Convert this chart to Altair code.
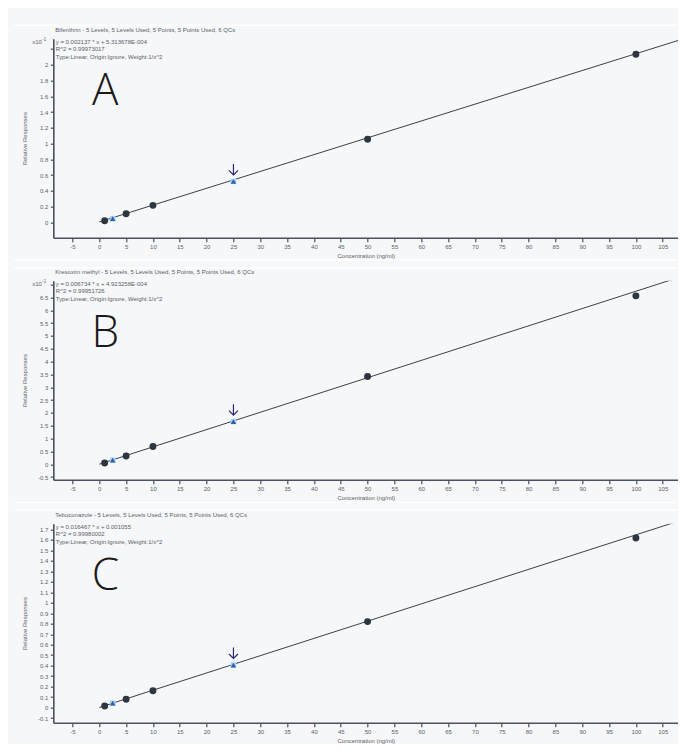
import altair as alt
import pandas as pd

# ---------------- data ----------------
X_TICKS = [-5, 0, 5, 10, 15, 20, 25, 30, 35, 40, 45, 50, 55, 60, 65, 70, 75, 80, 85, 90, 95, 100, 105]
X_DOMAIN = [-8.57, 107.9]
FIT_X = [0, 112]

A_TITLE = "Bifenthrin - 5 Levels, 5 Levels Used, 5 Points, 5 Points Used, 6 QCs"
A_EQ = ["y = 0.002137 * x  + 5.313678E-004", "R^2 = 0.99973017", "Type:Linear, Origin:Ignore, Weight:1/x^2"]
A_CAL_X = [1, 5, 10, 50, 100]
A_CAL_Y = [0.02, 0.11, 0.216, 1.055, 2.136]
A_QC_X = [2.5, 25]
A_QC_Y = [0.047, 0.52]
A_FIT = [0.02137, 0.0053]          # slope, intercept (x10^-1 units)
A_Y_DOMAIN = [-0.195, 2.333]
A_Y_TICKS = [0, 0.2, 0.4, 0.6, 0.8, 1, 1.2, 1.4, 1.6, 1.8, 2, 2.2]

B_TITLE = "Kresoxim methyl - 5 Levels, 5 Levels Used, 5 Points, 5 Points Used, 6 QCs"
B_EQ = ["y = 0.006734 * x  + 4.923258E-004", "R^2 = 0.99951726", "Type:Linear, Origin:Ignore, Weight:1/x^2"]
B_CAL_X = [1, 5, 10, 50, 100]
B_CAL_Y = [0.05, 0.32, 0.69, 3.42, 6.56]
B_QC_X = [2.5, 25]
B_QC_Y = [0.16, 1.66]
B_FIT = [0.06734, 0.0049]
B_Y_DOMAIN = [-0.6, 7.15]
B_Y_TICKS = [-0.5, 0, 0.5, 1, 1.5, 2, 2.5, 3, 3.5, 4, 4.5, 5, 5.5, 6, 6.5, 7]

C_TITLE = "Tebuconazole - 5 Levels, 5 Levels Used, 5 Points, 5 Points Used, 6 QCs"
C_EQ = ["y = 0.016467 * x  + 0.001055", "R^2 = 0.99980002", "Type:Linear, Origin:Ignore, Weight:1/x^2"]
C_CAL_X = [1, 5, 10, 50, 100]
C_CAL_Y = [0.016, 0.08, 0.16, 0.82, 1.617]
C_QC_X = [2.5, 25]
C_QC_Y = [0.042, 0.406]
C_FIT = [0.016467, 0.001055]
C_Y_DOMAIN = [-0.144, 1.754]
C_Y_TICKS = [-0.1, 0, 0.1, 0.2, 0.3, 0.4, 0.5, 0.6, 0.7, 0.8, 0.9, 1, 1.1, 1.2, 1.3, 1.4, 1.5, 1.6, 1.7]

# ---------------- style ----------------
BG = "#f6f7f9"
AXIS = "#4a5160"
TXT = "#5a5f66"
DOT = "#2e3640"
LINE = "#3a4048"
QC_BLUE = "#2c5fb5"
QC_LIGHT = "#a9d4ef"
ARROW = "#29287a"
FONT = "Liberation Sans"
W, H = 625, 199
ARROW_PATH = "M0,-1.75L0,-0.65M-0.45,-1.1L0,-0.65L0.45,-1.1"


def panel(letter, title, eq, cal_x, cal_y, qc_x, qc_y, fit, y_dom, y_ticks, hide_top, exp_label, seps):
    xs = alt.Scale(domain=X_DOMAIN, nice=False, zero=False)
    ys = alt.Scale(domain=y_dom, nice=False, zero=False)
    fix = "replace(datum.label, '\u2212', '-')"
    label_expr = fix
    if hide_top is not None:
        label_expr = f"datum.value > {hide_top} ? '' : {fix}"
    X = alt.X("x:Q", scale=xs, axis=alt.Axis(
        values=X_TICKS, title="Concentration (ng/ml)", grid=False, labelExpr=fix,
        tickSize=4, tickWidth=1.2, domainWidth=1.6, labelPadding=1.5, titlePadding=3.5,
        labelFontSize=6, titleFontSize=6, titleFontWeight="normal"))
    Y = alt.Y("y:Q", scale=ys, axis=alt.Axis(
        values=y_ticks, title="Relative Responses", grid=False, format="~g", labelExpr=label_expr,
        tickSize=3, tickWidth=1.2, domainWidth=1.6, labelPadding=2.5,
        labelFontSize=6, titleFontSize=6, titleFontWeight="normal", titleX=-29, titleBaseline="middle"))

    fit_df = pd.DataFrame({"x": FIT_X, "y": [fit[0] * v + fit[1] for v in FIT_X]})
    line = alt.Chart(fit_df).mark_line(clip=True, color=LINE, strokeWidth=1).encode(x=X, y=Y)
    cal = alt.Chart(pd.DataFrame({"x": cal_x, "y": cal_y})).mark_point(
        shape="circle", filled=True, size=48, color=DOT, opacity=1).encode(x=X, y=Y)
    qc_df = pd.DataFrame({"x": qc_x, "y": qc_y})
    qc_bg = alt.Chart(qc_df).mark_point(
        shape="square", filled=True, size=30, color=QC_LIGHT, opacity=1).encode(x=X, y=Y)
    qc = alt.Chart(qc_df).mark_point(
        shape="triangle-up", filled=True, size=30, color=QC_BLUE, opacity=1).encode(x=X, y=Y)
    arrow = alt.Chart(pd.DataFrame({"x": qc_x[-1:], "y": qc_y[-1:]})).mark_point(
        shape=ARROW_PATH, filled=False, size=400, color=ARROW, strokeWidth=1.2, opacity=1).encode(x=X, y=Y)

    title_t = alt.Chart(pd.DataFrame({"t": [title]})).mark_text(
        align="left", baseline="middle", fontSize=6, color=TXT, font=FONT).encode(
        x=alt.value(2), y=alt.value(-9), text="t:N")
    eq_t = alt.Chart(pd.DataFrame({"t": ["\n".join(eq)]})).mark_text(
        align="left", baseline="top", fontSize=6, lineHeight=7.3, color=TXT, font=FONT, lineBreak="\n").encode(
        x=alt.value(2.5), y=alt.value(0.5), text="t:N")
    letter_t = alt.Chart(pd.DataFrame({"t": [letter]})).mark_text(
        align="center", baseline="alphabetic", fontSize=44, fontWeight=300, color="#1a1a1a",
        font="Open Sans").encode(x=alt.value(52), y=alt.value(66), text="t:N")
    layers = []
    for sy in seps:
        layers.append(alt.Chart(pd.DataFrame({"t": [0]})).mark_rule(color="#ffffff", strokeWidth=1.5).encode(
            x=alt.value(-39), x2=alt.value(W - 1), y=alt.value(sy)))
    layers += [line, cal, qc_bg, qc, arrow, title_t, eq_t, letter_t]
    if exp_label:
        layers.append(alt.Chart(pd.DataFrame({"t": ["x10"]})).mark_text(
            align="right", baseline="middle", fontSize=6, color=TXT, font=FONT).encode(
            x=alt.value(-11.5), y=alt.value(3), text="t:N"))
        layers.append(alt.Chart(pd.DataFrame({"t": ["-1"]})).mark_text(
            align="left", baseline="middle", fontSize=4.5, color=TXT, font=FONT).encode(
            x=alt.value(-11), y=alt.value(1.2), text="t:N"))
    return alt.layer(*layers).properties(width=W, height=H)


pa = panel("A", A_TITLE, A_EQ, A_CAL_X, A_CAL_Y, A_QC_X, A_QC_Y, A_FIT, A_Y_DOMAIN, A_Y_TICKS, 2.1, True,
           [-13.5, 221.5])
pb = panel("B", B_TITLE, B_EQ, B_CAL_X, B_CAL_Y, B_QC_X, B_QC_Y, B_FIT, B_Y_DOMAIN, B_Y_TICKS, 6.9, True,
           [-13, 221.8])
pc = panel("C", C_TITLE, C_EQ, C_CAL_X, C_CAL_Y, C_QC_X, C_QC_Y, C_FIT, C_Y_DOMAIN, C_Y_TICKS, None, False,
           [-14])

chart = alt.vconcat(pa, pb, pc, spacing=5).properties(
    padding={"left": 5.3, "top": 15.7, "right": 0, "bottom": 0}
).configure(background=BG, font=FONT).configure_view(stroke=None).configure_axis(
    domainColor=AXIS, tickColor=AXIS, labelColor=TXT, titleColor=TXT, labelFont=FONT, titleFont=FONT
)

chart.save("out.html", embed_options={"renderer": "svg", "actions": False})
